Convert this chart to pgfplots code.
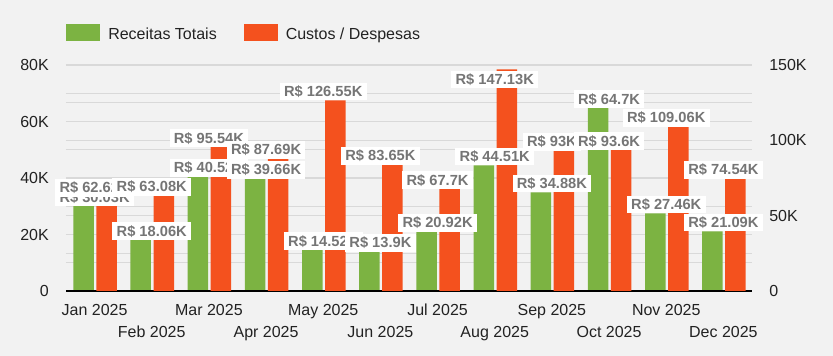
\documentclass[border=0pt]{standalone}
\usepackage{fontspec}
\setmainfont{Liberation Sans}
\usepackage{pgfplots}
\pgfplotsset{compat=1.18}
\usepackage{pgfplotstable}

\definecolor{bg}{HTML}{F2F2F2}
\definecolor{cGreen}{HTML}{7CB342}
\definecolor{cOrange}{HTML}{F4511E}
\definecolor{lblgray}{HTML}{757575}
\definecolor{gridc}{HTML}{D9D9D9}
\definecolor{tickc}{HTML}{222222}

% values in thousands of R$
\pgfplotstableread{
m rec cus
0 30.03 62.62
1 18.06 63.08
2 40.52 95.54
3 39.66 87.69
4 14.52 126.55
5 13.9 83.65
6 20.92 67.7
7 44.51 147.13
8 34.88 93
9 64.7 93.6
10 27.46 109.06
11 21.09 74.54
}\data

\pgfplotsset{
  base/.style={
    scale only axis, width=514.5pt, height=169.5pt,
    xmin=-0.5, xmax=11.5, ymin=0,
    at={(49.5pt,48.75pt)}, anchor=south west,
    major tick length=0pt,
    tick label style={font=\fontsize{12}{14}\selectfont, inner sep=0pt, text=tickc},
  },
  lbl/.style={
    ybar, bar width=15.375pt, fill=none, draw=none,
    point meta=y,
    nodes near coords={R\$ \pgfmathprintnumber[fixed,precision=2,assume math mode=true]{\pgfplotspointmeta}K},
    every node near coord/.append style={fill=white, text=lblgray,
      font=\bfseries\fontsize{11}{13}\selectfont,
      inner xsep=3.2pt, inner ysep=0pt, minimum height=13.3pt,
      anchor=south, outer sep=0pt},
  },
}

\begin{document}
\begin{tikzpicture}
\fill[bg] (0,0) rectangle (624.75pt,267pt);

% axis 1: grid, green bars, odd-month labels, legend, left ticks
\begin{axis}[base, ymax=80,
  axis x line*=bottom, axis y line*=left,
  y axis line style={draw=none}, x axis line style={draw=none},
  ytick={0,10,...,80}, yticklabels={0,,20K,,40K,,60K,,80K},
  extra y ticks={13.3333,26.6667,53.3333,66.6667}, extra y tick labels={},
  extra y tick style={grid=major},
  ymajorgrids, grid style={gridc, line width=0.9pt},
  yticklabel style={xshift=-12.75pt},
  xtick={0,2,...,10},
  xticklabels={Jan 2025, Mar 2025, May 2025, Jul 2025, Sep 2025, Nov 2025},
  xticklabel style={yshift=-9.75pt},
  legend columns=2,
  legend image code/.code={\fill[#1] (0pt,-4.6pt) rectangle (25.5pt,8.2pt);},
  legend style={at={(0,1)}, anchor=west, yshift=24.45pt, draw=none, fill=none,
    inner sep=0pt, font=\fontsize{12}{14}\selectfont, text=tickc,
    nodes={inner sep=0pt},
    /tikz/every odd column/.append style={column sep=6pt},
    /tikz/every even column/.append style={column sep=20.25pt}},
]
\addlegendimage{fill=cGreen, draw=none}
\addlegendentry{Receitas Totais}
\addlegendimage{fill=cOrange, draw=none}
\addlegendentry{Custos / Despesas}
\addplot[forget plot, ybar, bar width=15.375pt, bar shift=-8.25pt, fill=cGreen, draw=none]
  table[x=m, y=rec] {\data};
\end{axis}

% axis 2: orange bars, baseline, right ticks, even-month labels
\begin{axis}[base, ymax=150,
  axis x line*=bottom, axis y line*=right,
  y axis line style={draw=none}, x axis line style={black, line width=1.5pt},
  ytick={0,50,100,150}, yticklabels={0,50K,100K,150K},
  yticklabel style={xshift=12.75pt},
  xtick={1,3,...,11},
  xticklabels={Feb 2025, Apr 2025, Jun 2025, Aug 2025, Oct 2025, Dec 2025},
  xticklabel style={yshift=-25.95pt},
]
\addplot[ybar, bar width=15.375pt, bar shift=9pt, fill=cOrange, draw=none]
  table[x=m, y=cus] {\data};
\end{axis}

% axis 3: green value labels
\begin{axis}[base, ymax=80, hide axis, clip=false]
\addplot[lbl, bar shift=-8.25pt] table[x=m, y=rec] {\data};
\end{axis}

% axis 4: orange value labels
\begin{axis}[base, ymax=150, hide axis, clip=false]
\addplot[lbl, bar shift=9pt, skip coords between index={7}{8}] table[x=m, y=cus] {\data};
\addplot[lbl, bar shift=9pt, skip coords between index={0}{7}, skip coords between index={8}{12},
  every node near coord/.append style={yshift=-14.3pt}] table[x=m, y=cus] {\data};
\end{axis}

\pgfresetboundingbox
\useasboundingbox (0,0) rectangle (624.75pt,267pt);
\end{tikzpicture}
\end{document}
